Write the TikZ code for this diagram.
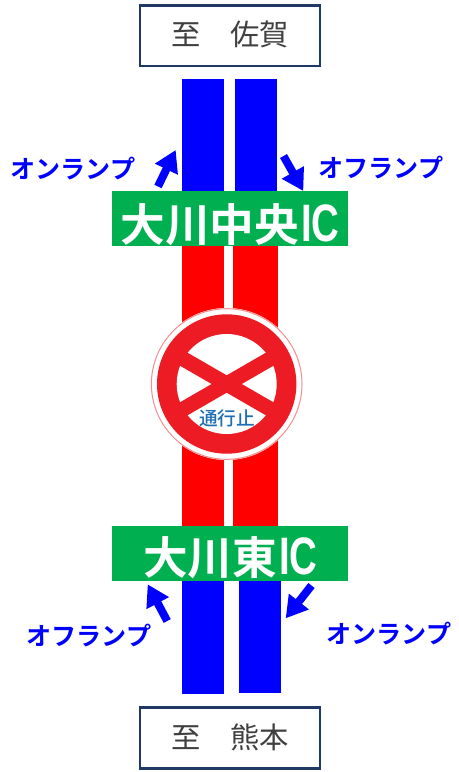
\documentclass[tikz,border=0pt]{standalone}
\usepackage{fontspec}
\usetikzlibrary{arrows.meta}
\setmainfont{Noto Sans CJK JP}
\newfontfamily\jpb{Noto Sans CJK JP Bold}
\newfontfamily\jpm{Noto Sans CJK JP Medium}
\newfontfamily\lat{Liberation Sans Bold}
\definecolor{roadblue}{RGB}{0,0,255}
\definecolor{roadred}{RGB}{255,0,0}
\definecolor{icgreen}{RGB}{0,176,80}
\definecolor{signred}{RGB}{237,28,36}
\definecolor{boxedge}{RGB}{31,56,100}
\definecolor{signtext}{RGB}{30,110,180}
\definecolor{boxtext}{RGB}{64,64,64}
\tikzset{
  blueroad/.style={fill=roadblue},
  redroad/.style={fill=roadred},
  icband/.style={fill=icgreen},
  destbox/.style={draw=boxedge,line width=1.9pt,fill=white},
  desttext/.style={font=\fontsize{22pt}{24pt}\selectfont,text=boxtext,inner sep=0pt},
  ictext/.style={font=\jpb\fontsize{33.5pt}{36pt}\selectfont,text=white,inner sep=0pt},
  ramplabel/.style={font=\jpb\fontsize{18.8pt}{20pt}\selectfont,text=roadblue,inner sep=0pt},
  ramparrow/.style={draw=roadblue,line width=6pt,-{Triangle[length=16pt,width=18pt]},shorten >=0pt}
}
\begin{document}
\begin{tikzpicture}[x=0.75pt,y=-0.75pt]
\useasboundingbox (0,0) rectangle (459,772);
% roads
\fill[blueroad] (182,79) rectangle (224,192);
\fill[blueroad] (235,79) rectangle (277,192);
\fill[redroad] (182,245) rectangle (224,527);
\fill[redroad] (233.3,245) rectangle (277.5,527);
\fill[blueroad] (182,580) rectangle (224,694);
\fill[blueroad] (239,580) rectangle (281,693);
% interchange bands
\fill[icband] (112,191) rectangle (348,246);
\fill[icband] (112,526) rectangle (348,581);
\node[ictext] (ic1) at (230,224.5) {大川中央\hspace{1.5pt}{\lat\scalebox{0.86}[1.18]{IC}}};
\node[ictext] (ic2) at (230.5,557.5) {大川東\hspace{1.5pt}{\lat\scalebox{0.86}[1.18]{IC}}};
% destination boxes
\filldraw[destbox] (140,5.5) rectangle (320,66);
\filldraw[destbox] (140,707.5) rectangle (320,768.5);
\node[desttext] (d1) at (230,34) {至　佐賀};
\node[desttext] (d2) at (230,737.5) {至　熊本};
% sign
\coordinate (sc) at (226.7,384);
\fill[white] (sc) circle[radius=57pt];
\draw[draw=signred!50!white,line width=0.75pt] (sc) circle[radius=75.3*0.75pt];
\fill[signred] (sc) circle[radius=69.7*0.75pt];
\fill[white] (sc) circle[radius=50*0.75pt];
\begin{scope}
\clip (sc) circle[radius=52*0.75pt];
\draw[signred,line width=11.3pt] ([shift={(-30:45pt)}]sc) -- ([shift={(150:45pt)}]sc);
\draw[signred,line width=11.3pt] ([shift={(30:45pt)}]sc) -- ([shift={(210:45pt)}]sc);
\end{scope}
\node[font=\jpm\fontsize{14pt}{16pt}\selectfont,text=signtext,inner sep=0pt] (st) at (227,418) {通行止};
% ramp arrows
\coordinate (a1s) at (158,186.5); \coordinate (a1e) at (175.7,150);
\coordinate (a2s) at (283.5,156); \coordinate (a2e) at (303.3,191);
\coordinate (a3s) at (167.2,621); \coordinate (a3e) at (147.7,584.3);
\coordinate (a4s) at (311.5,585.5); \coordinate (a4e) at (285.7,618.3);
\draw[ramparrow] (a1s) -- (a1e);
\draw[ramparrow] (a2s) -- (a2e);
\draw[ramparrow] (a3s) -- (a3e);
\draw[ramparrow] (a4s) -- (a4e);
% ramp labels
\node[ramplabel] (l1) at (73,168.5) {オンランプ};
\node[ramplabel] (l2) at (381,167.5) {オフランプ};
\node[ramplabel] (l3) at (89,635.5) {オフランプ};
\node[ramplabel] (l4) at (389,633.5) {オンランプ};
\end{tikzpicture}
\end{document}
